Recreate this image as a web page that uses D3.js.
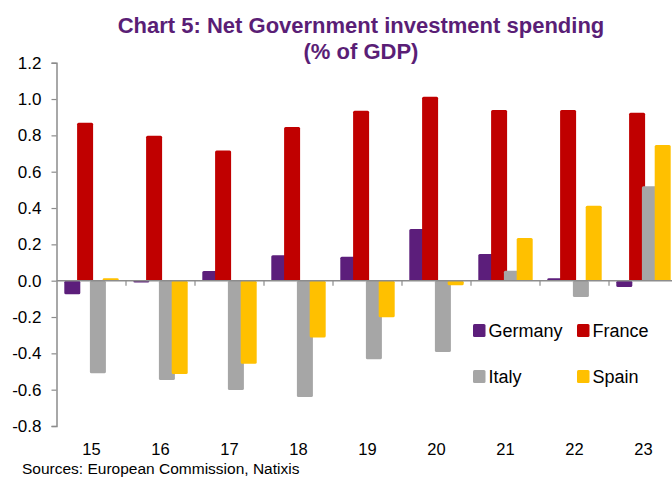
<!DOCTYPE html>
<html>
<head>
<meta charset="utf-8">
<script src="https://cdnjs.cloudflare.com/ajax/libs/d3/7.8.5/d3.min.js"></script>
<style>
  body { margin: 0; background: #fff; }
  svg { display: block; font-family: "Liberation Sans", Arial, sans-serif; }
</style>
</head>
<body>
<svg id="canvas"></svg>
<script>
const years = ['15', '16', '17', '18', '19', '20', '21', '22', '23']
const series = ['Germany', 'France', 'Italy', 'Spain']
const germany = [-0.075, -0.01, 0.053, 0.14, 0.132, 0.285, 0.147, 0.013, -0.035]
const france = [0.87, 0.798, 0.717, 0.846, 0.936, 1.013, 0.94, 0.94, 0.925]
const italy = [-0.51, -0.547, -0.602, -0.64, -0.433, -0.392, 0.055, -0.09, 0.52]
const spain = [0.013, -0.514, -0.457, -0.313, -0.202, -0.025, 0.235, 0.413, 0.747]
const yTicks = [-0.8, -0.6, -0.4, -0.2, 0.0, 0.2, 0.4, 0.6, 0.8, 1.0, 1.2]
const colors = ['#5c1e7b', '#c00000', '#a6a6a6', '#ffc000']
const values = [germany, france, italy, spain]

const w = 672
const h = 482
const canvas = d3.select('#canvas').attr('width', w).attr('height', h)

const xScale = d3.scaleBand()
                 .domain(years)
                 .range([57, 678])
                 .paddingInner(0)

const yScale = d3.scaleLinear()
                 .domain([-0.8, 1.2])
                 .range([426, 62.7])

const barW = 16
const step = 12.8

// title
const title = canvas.append('text')
                    .attr('fill', '#5a1e76')
                    .attr('font-weight', 'bold')
                    .attr('font-size', 22)
                    .attr('text-anchor', 'middle')
title.append('tspan').attr('x', 361).attr('y', 33).text('Chart 5: Net Government investment spending')
title.append('tspan').attr('x', 361).attr('y', 59).text('(% of GDP)')

// bars, drawn series by series so each one overlaps the previous
series.forEach((name, i) => {
  canvas.append('g')
        .selectAll('rect')
        .data(values[i])
        .enter()
        .append('rect')
        .attr('x', (_, j) => xScale(years[j]) + xScale.bandwidth() / 2 + (i - 1.5) * step - barW / 2)
        .attr('y', d => yScale(Math.max(0, d)))
        .attr('width', barW)
        .attr('height', d => Math.abs(yScale(d) - yScale(0)))
        .attr('rx', 1.5)
        .attr('fill', colors[i])
})

// y axis
const yAxis = d3.axisLeft(yScale)
                .tickValues(yTicks)
                .tickFormat(d => d.toFixed(1))
                .tickSize(5)
                .tickPadding(10)
const yG = canvas.append('g')
                 .attr('transform', 'translate(56.5,0)')
                 .call(yAxis)
yG.select('.domain').attr('stroke', '#8c8c8c').attr('stroke-width', 1.5)
yG.selectAll('.tick line').attr('stroke', '#8c8c8c').attr('stroke-width', 1.2)
yG.selectAll('text').attr('font-size', 17).attr('fill', '#000').attr('font-family', null)

// zero line with category separators
const zero = canvas.append('g')
zero.append('line')
    .attr('x1', 56.5).attr('x2', w)
    .attr('y1', yScale(0)).attr('y2', yScale(0))
    .attr('stroke', '#8c8c8c')
    .attr('stroke-width', 1.5)
zero.selectAll('.sep')
    .data(years.slice(1))
    .enter()
    .append('line')
    .attr('class', 'sep')
    .attr('x1', d => xScale(d)).attr('x2', d => xScale(d))
    .attr('y1', yScale(0)).attr('y2', yScale(0) + 5)
    .attr('stroke', '#8c8c8c')
    .attr('stroke-width', 1.2)

// category labels at the bottom
const xAxis = d3.axisBottom(xScale).tickSize(0).tickPadding(17)
const xG = canvas.append('g')
                 .attr('transform', 'translate(0,426)')
                 .call(xAxis)
xG.select('.domain').remove()
xG.selectAll('text').attr('font-size', 16.5).attr('fill', '#000').attr('font-family', null)

// legend
const legendPos = [[473, 324], [577, 324], [473, 370], [577, 370]]
const legend = canvas.append('g')
                     .selectAll('g')
                     .data(series)
                     .enter()
                     .append('g')
                     .attr('transform', (_, i) => 'translate(' + legendPos[i][0] + ',' + legendPos[i][1] + ')')
legend.append('rect')
      .attr('width', 12.5)
      .attr('height', 13)
      .attr('rx', 1.5)
      .attr('fill', (_, i) => colors[i])
legend.append('text')
      .attr('x', 15.5)
      .attr('y', 13.3)
      .attr('font-size', 18)
      .text(d => d)

// source
canvas.append('text')
      .attr('x', 22)
      .attr('y', 473.5)
      .attr('font-size', 15.5)
      .text('Sources: European Commission, Natixis')
</script>
</body>
</html>
